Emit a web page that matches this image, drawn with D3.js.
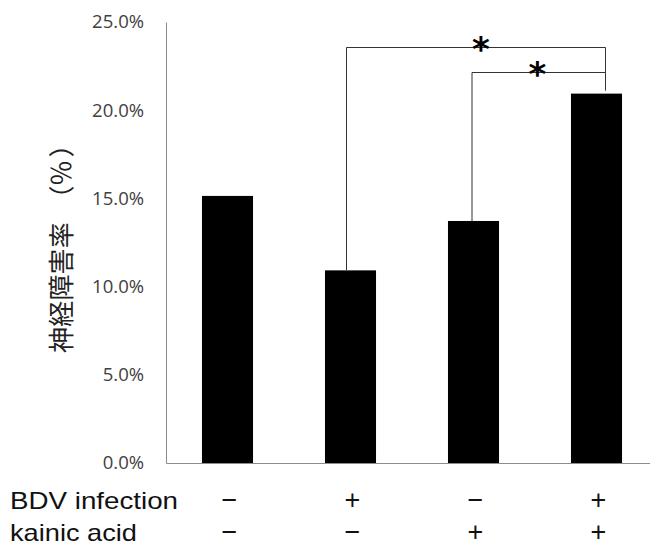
<!DOCTYPE html>
<html>
<head>
<meta charset="utf-8">
<script src="https://cdn.jsdelivr.net/npm/d3@7"></script>
<style>
  html, body { margin: 0; padding: 0; background: #fff; }
  svg { display: block; }
</style>
</head>
<body>
<svg id="chart" width="650" height="546"></svg>
<script>
// Groups and their neuronal damage rates
const groups = ["ctrl", "bdv", "ka", "bdv_ka"];
const rates = [0.1514, 0.1092, 0.1372, 0.2094];
const bdvInfection = ["−", "+", "−", "+"];
const kainicAcid = ["−", "−", "+", "+"];
const rowLabels = ["BDV infection", "kainic acid"];
const yTicks = [0, 0.05, 0.10, 0.15, 0.20, 0.25];
const yTitle = "神経障害率（％）";

// Significance brackets: between group indices, bracket height, marker
const sigFrom = [1, 2];
const sigTo = [3, 3];
const sigLevel = [0.236, 0.2215];
const sigMark = ["*", "*"];

const svg = d3.select("#chart");
const plotLeft = 166, plotRight = 658, plotTop = 22, plotBottom = 463;

const x = d3.scaleBand().domain(groups).range([plotLeft, plotRight])
  .paddingInner(0.585).paddingOuter(0.2925);
const y = d3.scaleLinear().domain([0, 0.25]).range([plotBottom, plotTop]);

// Axes (no tick marks, grey lines)
const yAxis = svg.append("g").attr("transform", `translate(${plotLeft},0)`)
  .call(d3.axisLeft(y).tickValues(yTicks).tickSize(0).tickPadding(22).tickFormat(d3.format(".1%")));
yAxis.select(".domain").attr("stroke", "#8c8c8c").attr("stroke-width", 1);
yAxis.selectAll("text")
  .attr("font-family", "'Open Sans', 'Noto Sans', sans-serif")
  .attr("font-size", 18.5).attr("fill", "#404040");

const xAxis = svg.append("g").attr("transform", `translate(0,${plotBottom})`)
  .call(d3.axisBottom(x).tickSize(0).tickFormat(""));
xAxis.select(".domain").attr("stroke", "#8c8c8c").attr("stroke-width", 1);

// Bars
svg.append("g").selectAll("rect").data(groups).join("rect")
  .attr("x", d => x(d))
  .attr("width", x.bandwidth())
  .attr("y", (d, i) => y(rates[i]))
  .attr("height", (d, i) => y(0) - y(rates[i]))
  .attr("fill", "#000");

// Significance brackets
const cx = d => x(d) + x.bandwidth() / 2;
const leftOffset = [-4, -1.5];
const rightOffset = 9;
const bracketColor = "#333";
const br = svg.append("g").attr("fill", "none").attr("stroke", bracketColor).attr("stroke-width", 1);
sigFrom.forEach((f, k) => {
  const x1 = cx(groups[f]) + leftOffset[k];
  const x2 = cx(groups[sigTo[k]]) + rightOffset;
  const yl = Math.round(y(sigLevel[k])) + 0.5;
  br.append("path")
    .attr("d", `M${x1},${y(rates[f])} V${yl} H${x2}`);
});
// shared right leg down toward the tallest bar
const topLevel = d3.max(sigLevel);
br.append("path")
  .attr("d", `M${cx(groups[3]) + rightOffset},${Math.round(y(topLevel)) + 0.5} V${y(rates[3]) - 3}`);

// Asterisks
const starX = [481, 537.5];
svg.append("g").selectAll("text").data(sigMark).join("text")
  .attr("x", (d, k) => starX[k])
  .attr("y", (d, k) => y(sigLevel[k]) + 14)
  .attr("text-anchor", "middle")
  .attr("font-family", "'DejaVu Sans', sans-serif")
  .attr("font-weight", "bold")
  .attr("font-size", 34)
  .attr("fill", "#000")
  .text(d => d);

// Y axis title: full-width glyph slots set explicitly along the rotated baseline
const titleSlots = [-105.5, -79.3, -53.1, -26.9, -0.7, 36, 61.5, 90];
svg.append("text")
  .attr("transform", `translate(71,${(143 + 352) / 2}) rotate(-90)`)
  .attr("x", titleSlots.join(" "))
  .attr("y", 0)
  .attr("font-family", "'Noto Sans CJK JP', sans-serif")
  .attr("font-size", 26)
  .attr("fill", "#222")
  .text(yTitle);

// Condition rows under the axis
const rowY = [509, 541];
const rowLabelLen = [168, 127];
const rowSigns = [bdvInfection, kainicAcid];
const labelFont = "'Liberation Sans', Arial, sans-serif";
rowLabels.forEach((lab, r) => {
  svg.append("text")
    .attr("x", 10).attr("y", rowY[r])
    .attr("font-family", labelFont).attr("font-size", 24)
    .attr("textLength", rowLabelLen[r])
    .attr("lengthAdjust", "spacingAndGlyphs")
    .attr("fill", "#111")
    .text(lab);
  svg.append("g").selectAll("text").data(rowSigns[r]).join("text")
    .attr("x", (d, i) => cx(groups[i]) + 2)
    .attr("y", rowY[r])
    .attr("text-anchor", "middle")
    .attr("font-family", labelFont).attr("font-size", 27)
    .attr("fill", "#111")
    .text(d => d);
});
</script>
</body>
</html>
